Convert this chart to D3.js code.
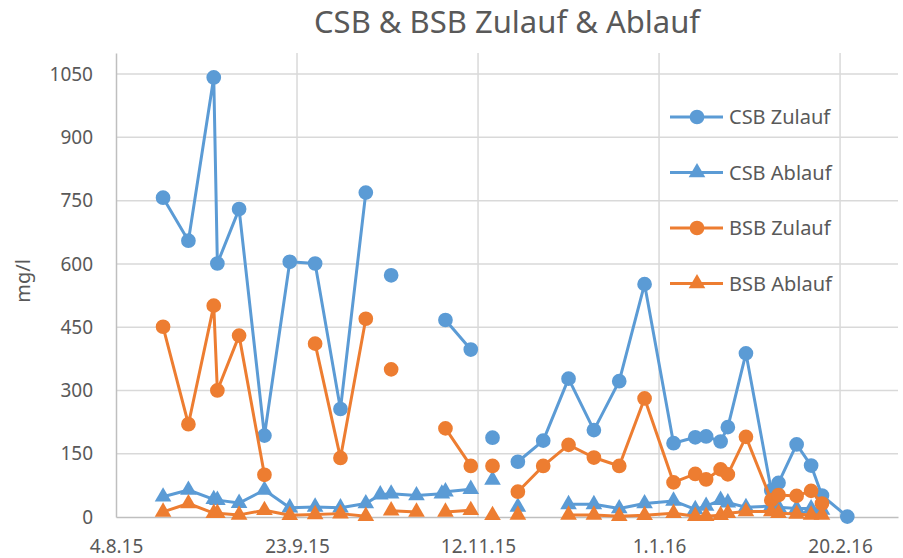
<!DOCTYPE html>
<html>

<head>
    <meta charset="utf-8">
    <title>CSB & BSB Zulauf & Ablauf</title>
    <script src="https://d3js.org/d3.v7.min.js" charset="utf-8"></script>
    <style>
        body { margin: 0; background: #fff; }
        text { font-family: "Noto Sans", "Open Sans", sans-serif; fill: #595959; }
    </style>
</head>

<body>

    <div class="box"></div>

    <script type="text/javascript">
        // sample dates (null rows in between break the lines, like empty rows in the sheet)
        var dates = ["2015-08-17", "2015-08-24", "2015-08-31", "2015-09-01", "2015-09-07", "2015-09-14",
            "2015-09-21", "2015-09-28", "2015-10-05", "2015-10-12", "2015-10-16", "2015-10-19",
            "2015-10-26", "2015-11-02", "2015-11-03", "2015-11-10", "2015-11-13", "2015-11-16",
            "2015-11-19", "2015-11-23", "2015-11-30", "2015-12-07", "2015-12-14", "2015-12-21",
            "2015-12-28", "2016-01-05", "2016-01-11", "2016-01-14", "2016-01-18", "2016-01-20",
            "2016-01-25", "2016-02-01", "2016-02-03", "2016-02-08", "2016-02-12", "2016-02-15",
            "2016-02-22"];

        var csbZulauf = [757, 655, 1042, 601, 730, 193, 605, 601, 256, 769, null, 573,
            null, null, 467, 397, null, 188, null, 131, 181, 328, 206, 322,
            552, 175, 189, 191, 179, 213, 388, 63, 81, 172, 122, 51, 1];
        var csbAblauf = [48, 64, 42, 40, 33, 64, 22, 24, 22, 32, 53, 55,
            51, 55, 60, 66, null, 88, null, 24, null, 30, 30, 20,
            32, 38, 18, 26, 40, 34, 23, 26, 23, 20, 20, 17, null];
        var bsbZulauf = [451, 220, 501, 300, 430, 100, null, 411, 140, 470, null, 350,
            null, null, 210, 121, null, 121, null, 60, 121, 171, 141, 121,
            281, 82, 102, 89, 113, 101, 190, 40, 52, 50, 62, 32, null];
        var bsbAblauf = [12, 32, 9, 9, 5, 16, 4, 6, 8, 2, null, 15,
            12, null, 12, 16, null, 4, null, 5, null, 5, 5, 2,
            4, 9, 2, 2, 4, 9, 13, 13, 9, 7, 5, 5, null];

        var seriesNames = ["CSB Zulauf", "CSB Ablauf", "BSB Zulauf", "BSB Ablauf"];
        var yTicks = [0, 150, 300, 450, 600, 750, 900, 1050];
        var xTickLabels = ["4.8.15", "23.9.15", "12.11.15", "1.1.16", "20.2.16"];

        var width = 903;
        var height = 558;
        var blue = "#5B9BD5";
        var orange = "#ED7D31";

        var parse = d3.timeParse("%Y-%m-%d");
        var parseTick = d3.timeParse("%d.%m.%y");
        var tickDates = xTickLabels.map(function(s) { return parseTick(s); });
        var xs = dates.map(parse);

        var series = [
            { name: seriesNames[0], values: csbZulauf, color: blue, shape: d3.symbolCircle },
            { name: seriesNames[1], values: csbAblauf, color: blue, shape: d3.symbolTriangle },
            { name: seriesNames[2], values: bsbZulauf, color: orange, shape: d3.symbolCircle },
            { name: seriesNames[3], values: bsbAblauf, color: orange, shape: d3.symbolTriangle }
        ];

        var x = d3.scaleTime()
            .domain([tickDates[0], d3.timeDay.offset(tickDates[0], 216)])
            .range([116, 898]);
        var y = d3.scaleLinear()
            .domain([0, 1100])
            .range([517, 53]);

        var svg = d3.select("div.box").append("svg")
            .attr("width", width)
            .attr("height", height);

        // title
        svg.append("text")
            .attr("x", 507)
            .attr("y", 33)
            .attr("text-anchor", "middle")
            .style("font-size", "31px")
            .text("CSB & BSB Zulauf & Ablauf");

        // gridlines
        svg.append("g").selectAll("line.h")
            .data(yTicks.slice(1))
            .enter().append("line")
            .attr("x1", x.range()[0]).attr("x2", x.range()[1])
            .attr("y1", function(d) { return y(d); })
            .attr("y2", function(d) { return y(d); })
            .attr("stroke", "#d9d9d9").attr("stroke-width", 1.5);
        svg.append("g").selectAll("line.v")
            .data(tickDates.slice(1))
            .enter().append("line")
            .attr("x1", function(d) { return x(d); })
            .attr("x2", function(d) { return x(d); })
            .attr("y1", y(1100)).attr("y2", y(0))
            .attr("stroke", "#d9d9d9").attr("stroke-width", 1.5);

        // axes
        var yAxis = svg.append("g")
            .attr("transform", "translate(116,0)")
            .call(d3.axisLeft(y).tickValues(yTicks).tickSize(0).tickPadding(23).tickFormat(d3.format("d")));
        yAxis.select(".domain").attr("stroke", "#bfbfbf").attr("stroke-width", 1.5);
        yAxis.selectAll("text").style("font-size", "19px").attr("fill", "#595959");

        var xAxis = svg.append("g")
            .attr("transform", "translate(0,517)")
            .call(d3.axisBottom(x).tickValues(tickDates).tickSize(0).tickPadding(23)
                .tickFormat(function(d, i) { return xTickLabels[i]; }));
        xAxis.select(".domain").attr("stroke", "#bfbfbf").attr("stroke-width", 1.5);
        xAxis.selectAll("text").style("font-size", "19px").attr("fill", "#595959");

        svg.append("text")
            .attr("transform", "translate(30,281) rotate(-90)")
            .attr("text-anchor", "middle")
            .style("font-size", "20px")
            .text("mg/l");

        // lines + markers
        var line = d3.line()
            .defined(function(d) { return d.v !== null; })
            .x(function(d) { return x(d.t); })
            .y(function(d) { return y(d.v); });

        series.forEach(function(s) {
            var pts = s.values.map(function(v, i) { return { t: xs[i], v: v }; });
            var g = svg.append("g");
            g.append("path")
                .datum(pts)
                .attr("d", line)
                .attr("fill", "none")
                .attr("stroke", s.color)
                .attr("stroke-width", 3)
                .attr("stroke-linejoin", "round");
            g.selectAll("path.m")
                .data(pts.filter(function(d) { return d.v !== null; }))
                .enter().append("path")
                .attr("class", "m")
                .attr("transform", function(d) { return "translate(" + x(d.t) + "," + y(d.v) + ")"; })
                .attr("d", d3.symbol().type(s.shape).size(s.shape === d3.symbolCircle ? 170 : 120))
                .attr("fill", s.color);
        });

        // legend
        var legend = svg.append("g").selectAll("g")
            .data(series)
            .enter().append("g")
            .attr("transform", function(d, i) { return "translate(670," + (117 + i * 55.5) + ")"; });
        legend.append("line")
            .attr("x1", 0).attr("x2", 53)
            .attr("stroke", function(d) { return d.color; })
            .attr("stroke-width", 3);
        legend.append("path")
            .attr("transform", "translate(27,0)")
            .attr("d", function(d) { return d3.symbol().type(d.shape).size(d.shape === d3.symbolCircle ? 170 : 120)(); })
            .attr("fill", function(d) { return d.color; });
        legend.append("text")
            .attr("x", 59)
            .attr("dy", "0.35em")
            .style("font-size", "20px")
            .text(function(d) { return d.name; });
    </script>

</body>

</html>
